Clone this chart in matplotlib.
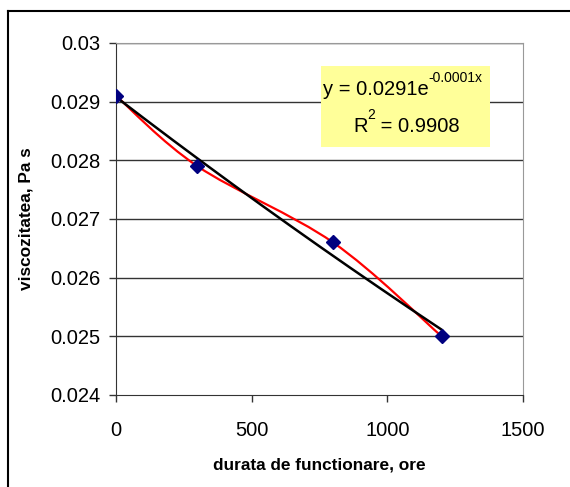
import numpy as np
import matplotlib
matplotlib.use('Agg')
import matplotlib.pyplot as plt
from matplotlib.path import Path
from matplotlib.patches import PathPatch, Rectangle
from matplotlib.lines import Line2D

plt.rcParams['font.family'] = ['Liberation Sans', 'DejaVu Sans']

# date
durata = [0, 300, 800, 1200]
viscozitate = [0.0291, 0.0279, 0.0266, 0.0250]

x_ticks = [0, 500, 1000, 1500]
x_labels = ['0', '500', '1000', '1500']
y_ticks = [0.024, 0.025, 0.026, 0.027, 0.028, 0.029, 0.03]
y_labels = ['0.024', '0.025', '0.026', '0.027', '0.028', '0.029', '0.03']

ecuatie = 'y = 0.0291e'
ecuatie_exp = '-0.0001x'
r_patrat = 'R'
r_patrat_exp = '2'
r_patrat_rest = ' = 0.9908'

# %%
def linie_netezita(xs, ys):
    # curba Bezier ca la Excel (smoothed line)
    pts = np.column_stack([xs, ys]).astype(float)
    n = len(pts)
    verts = [pts[0]]
    codes = [Path.MOVETO]
    for i in range(n - 1):
        p0 = pts[max(i - 1, 0)]
        p1 = pts[i]
        p2 = pts[i + 1]
        p3 = pts[min(i + 2, n - 1)]
        c1 = p1 + (p2 - p0) / 6.0
        c2 = p2 - (p3 - p1) / 6.0
        verts += [c1, c2, p2]
        codes += [Path.CURVE4] * 3
    return Path(verts, codes)

# trendline exponential (ca in Excel: regresie pe ln y)
b, ln_a = np.polyfit(durata, np.log(viscozitate), 1)
x_tr = np.linspace(durata[0], durata[-1], 200)
y_tr = np.exp(ln_a) * np.exp(b * x_tr)

# %%
fig = plt.figure(figsize=(5.7, 4.87), dpi=100)
ax = fig.add_axes([116 / 570, 1 - 395 / 487, (523 - 116) / 570, (395 - 43) / 487])

for y in y_ticks[1:]:
    ax.axhline(y, color='#333333', lw=1.0, zorder=1)

ax.add_patch(PathPatch(linie_netezita(durata, viscozitate), facecolor='none',
                       edgecolor='#ff0000', lw=1.6, zorder=3))
ax.plot(x_tr, y_tr, color='black', lw=1.8, zorder=4)
ax.plot(durata, viscozitate, linestyle='none', marker='D', markersize=7,
        color='#000080', zorder=5)

ax.set_xlim(0, 1500)
ax.set_ylim(0.024, 0.03)
ax.set_xticks(x_ticks)
ax.set_xticklabels(x_labels)
ax.set_yticks(y_ticks)
ax.set_yticklabels(y_labels)
ax.tick_params(axis='both', direction='out', length=5, width=1, colors='#333333',
               labelsize=14.5, labelcolor='black')
ax.tick_params(axis='x', pad=14)
ax.tick_params(axis='y', pad=6)

for s in ['left', 'bottom']:
    ax.spines[s].set_color('#333333')
for s in ['top', 'right']:
    ax.spines[s].set_color('#999999')

ax.set_xlabel('durata de functionare, ore', fontsize=12.4, fontweight='bold', labelpad=12)
ax.set_ylabel('viscozitatea, Pa s', fontsize=12.4, fontweight='bold', labelpad=12)

# caseta cu ecuatia
ax.add_patch(Rectangle(((321 - 116) / 407, (395 - 147) / 352), 169 / 407, 81 / 352,
                       transform=ax.transAxes, facecolor='#ffff99', edgecolor='none', zorder=6))
t1 = ax.text((323 - 116) / 407, (395 - 90) / 352, ecuatie, transform=ax.transAxes,
             ha='left', va='center', fontsize=14.5, zorder=7)
ax.annotate(ecuatie_exp, xy=(1, 0.75), xycoords=t1, ha='left', va='bottom',
            fontsize=10, zorder=7)
t2 = ax.text((353 - 116) / 407, (395 - 127) / 352, r_patrat, transform=ax.transAxes,
             ha='left', va='center', fontsize=14.5, zorder=7)
t3 = ax.annotate(r_patrat_exp, xy=(1, 0.75), xycoords=t2, ha='left', va='bottom',
                 fontsize=10, zorder=7)
ax.annotate(r_patrat_rest, xy=(1, 0), xycoords=(t3, t2),
            ha='left', va='bottom', fontsize=14.5, zorder=7)

# chenarul exterior
fig.add_artist(Line2D([8 / 570, 8 / 570], [0, 1 - 11 / 487], color='black', lw=1.5))
fig.add_artist(Line2D([8 / 570, 1], [1 - 11 / 487, 1 - 11 / 487], color='black', lw=1.5))

plt.savefig('out.png', dpi=100)
